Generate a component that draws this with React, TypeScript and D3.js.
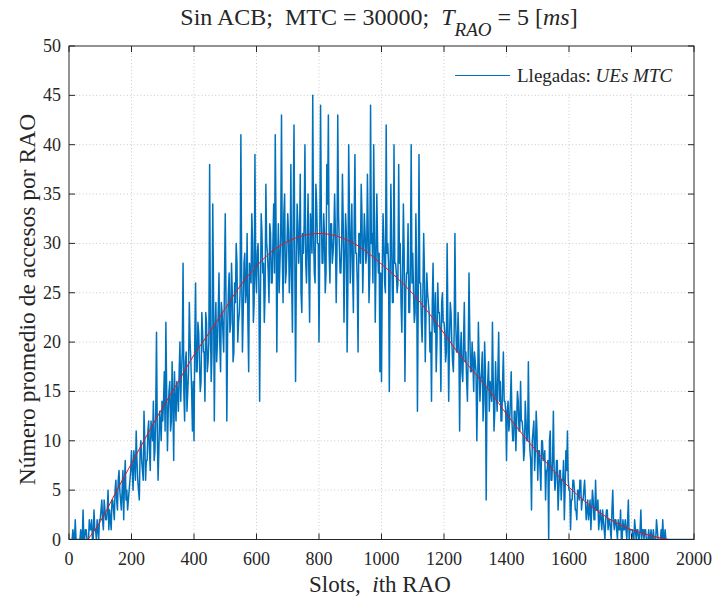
import React from "react";
import * as d3 from "d3";

const slotStep = 2.5;
const arrivals = [
  0, 0, 0, 0, 0, 1, 0, 0, 2, 0, 0, 0, 0, 0, 0, 1, 0, 0, 3, 0,
  0, 1, 1, 0, 0, 0, 2, 1, 1, 2, 0, 0, 3, 1, 1, 0, 2, 1, 0, 2,
  2, 3, 4, 2, 1, 4, 3, 2, 2, 3, 5, 1, 3, 2, 1, 4, 4, 3, 2, 5,
  6, 4, 3, 6, 7, 5, 4, 3, 5, 7, 2, 6, 8, 4, 5, 3, 4, 5, 6, 7,
  9, 7, 5, 9, 8, 6, 11, 8, 6, 5, 4, 9, 10, 8, 7, 6, 13, 10, 6, 8,
  8, 11, 12, 9, 7, 12, 11, 10, 14, 8, 9, 13, 21, 11, 6, 9, 13, 12, 10, 14,
  12, 14, 17, 11, 22, 15, 9, 13, 15, 16, 11, 12, 18, 14, 8, 17, 14, 12, 16, 15,
  13, 17, 20, 14, 17, 19, 28, 15, 12, 18, 19, 13, 15, 17, 24, 20, 18, 15, 11, 16,
  10, 20, 26, 17, 17, 22, 21, 18, 15, 16, 23, 21, 19, 19, 14, 23, 22, 17, 18, 20,
  38, 22, 16, 19, 34, 25, 12, 21, 24, 18, 20, 23, 27, 20, 17, 24, 23, 21, 19, 26,
  33, 24, 12, 21, 25, 27, 21, 22, 28, 25, 18, 19, 26, 24, 30, 28, 20, 22, 23, 25,
  41, 27, 19, 23, 28, 29, 24, 25, 31, 22, 17, 28, 27, 26, 33, 30, 22, 24, 39, 27,
  25, 29, 30, 26, 14, 24, 33, 31, 27, 28, 22, 25, 36, 30, 29, 27, 24, 32, 31, 26,
  26, 30, 34, 27, 41, 32, 19, 28, 32, 25, 28, 31, 43, 29, 24, 33, 35, 26, 27, 30,
  33, 31, 25, 28, 38, 26, 21, 33, 42, 29, 16, 27, 34, 32, 28, 30, 37, 25, 23, 31,
  29, 32, 40, 28, 26, 30, 35, 27, 22, 33, 31, 29, 45, 31, 27, 26, 36, 34, 30, 30,
  20, 30, 44, 33, 28, 28, 33, 31, 25, 27, 38, 34, 43, 29, 26, 32, 32, 28, 29, 31,
  35, 31, 24, 29, 43, 33, 30, 27, 27, 30, 37, 32, 22, 28, 33, 31, 19, 26, 40, 33,
  26, 30, 34, 27, 23, 32, 39, 29, 29, 26, 19, 31, 31, 28, 36, 33, 25, 29, 33, 31,
  28, 29, 37, 31, 24, 27, 44, 30, 31, 26, 40, 32, 22, 28, 35, 30, 27, 29, 17, 27,
  16, 27, 33, 30, 26, 25, 42, 29, 30, 28, 15, 26, 36, 30, 24, 24, 40, 28, 28, 27,
  25, 26, 38, 28, 30, 24, 21, 27, 34, 29, 16, 25, 27, 27, 32, 23, 23, 28, 40, 26,
  29, 25, 22, 23, 33, 27, 13, 24, 39, 26, 26, 22, 20, 25, 31, 27, 18, 23, 27, 25,
  24, 23, 19, 21, 14, 24, 28, 22, 21, 25, 17, 20, 26, 23, 23, 21, 15, 24, 25, 22,
  22, 21, 18, 19, 30, 22, 14, 20, 24, 23, 20, 18, 17, 21, 31, 22, 19, 19, 23, 20,
  11, 19, 21, 17, 16, 20, 24, 18, 19, 16, 14, 19, 27, 21, 17, 17, 20, 18, 15, 19,
  18, 17, 10, 15, 22, 18, 14, 16, 17, 19, 12, 14, 20, 17, 4, 15, 16, 18, 13, 16,
  15, 14, 22, 16, 11, 13, 18, 15, 13, 17, 21, 14, 16, 12, 12, 16, 19, 14, 14, 13,
  8, 13, 14, 11, 12, 14, 17, 12, 10, 10, 13, 13, 9, 12, 15, 14, 11, 11, 16, 12,
  12, 11, 8, 9, 14, 12, 10, 10, 18, 11, 9, 8, 3, 10, 11, 12, 7, 9, 13, 11,
  6, 9, 9, 7, 5, 10, 10, 8, 8, 9, 4, 7, 7, 8, 0, 10, 11, 6, 6, 8,
  13, 7, 5, 6, 8, 8, 3, 5, 7, 7, 4, 6, 6, 8, 2, 5, 9, 7, 11, 6,
  5, 5, 1, 4, 4, 6, 6, 5, 3, 3, 2, 5, 5, 4, 6, 6, 3, 4, 4, 5,
  6, 4, 2, 3, 4, 2, 3, 4, 1, 3, 5, 4, 2, 2, 6, 3, 3, 4, 1, 2,
  3, 2, 1, 3, 2, 1, 0, 2, 3, 3, 1, 2, 2, 1, 0, 3, 5, 2, 1, 2,
  2, 1, 0, 2, 1, 1, 3, 0, 0, 2, 1, 1, 2, 1, 0, 2, 4, 0, 1, 1,
  1, 1, 0, 0, 2, 1, 0, 1, 1, 0, 0, 1, 3, 0, 1, 1, 0, 1, 1, 0,
  0, 0, 1, 0, 0, 1, 0, 0, 1, 0, 0, 0, 2, 1, 0, 0, 0, 0, 1, 0,
  2, 0, 0, 1, 0, 0, 0, 0, 0, 0, 0, 0, 0, 0, 0, 0, 0, 0, 0, 0,
  0, 0, 0, 0, 0, 0, 0, 0, 0, 0, 0, 0, 0, 0, 0, 0, 0, 0, 0, 0,
  0,
];

// smooth mean curve (red)
const meanSlots = [60, 100, 150, 200, 250, 300, 350, 400, 450, 500, 550, 600, 650, 700, 750, 800, 850, 900, 950, 1000,
  1050, 1100, 1150, 1200, 1250, 1300, 1350, 1400, 1450, 1500, 1550, 1600, 1650, 1700, 1750, 1800, 1850, 1900, 1920];
const meanValues = [0, 1.8, 4.8, 7.7, 10.6, 13.4, 16.0, 18.7, 21.0, 23.4, 25.8, 27.7, 29.2, 30.2, 30.8, 31.0, 30.8, 30.2, 29.2, 27.9,
  26.5, 24.9, 23.0, 20.9, 18.7, 16.8, 14.9, 12.7, 10.7, 8.8, 7.0, 5.3, 3.9, 2.7, 1.7, 1.0, 0.5, 0.1, 0];

const xTicks = [0, 200, 400, 600, 800, 1000, 1200, 1400, 1600, 1800, 2000];
const yTicks = [0, 5, 10, 15, 20, 25, 30, 35, 40, 45, 50];

const W = 715, H = 599;
const left = 69, right = 694, top = 46, bottom = 539.5;
const serif = "'Liberation Serif', 'Times New Roman', serif";
const axisColor = "#262626";
const blue = "#0072BD";

export default function App() {
  const x = d3.scaleLinear().domain([0, 2000]).range([left, right]);
  const y = d3.scaleLinear().domain([0, 50]).range([bottom, top]);

  const arrLine = d3.line<number>()
    .x((d, i) => x(i * slotStep))
    .y(d => y(d));

  const meanLine = d3.line<number>()
    .x((d, i) => x(meanSlots[i]))
    .y(d => y(d))
    .curve(d3.curveMonotoneX);

  const tick = 6;

  return (
    <svg width={W} height={H} style={{ position: "absolute", left: 0, top: 0, background: "#fff" }}
      fontFamily={serif}>
      <rect x={0} y={0} width={W} height={H} fill="#fff" />
      {/* grid */}
      <g stroke="#bdbdbd" strokeWidth={0.8} strokeDasharray="1,2.4">
        {xTicks.slice(1, -1).map(t => (
          <line key={"gx" + t} x1={x(t)} x2={x(t)} y1={top} y2={bottom} />
        ))}
        {yTicks.slice(1, -1).map(t => (
          <line key={"gy" + t} x1={left} x2={right} y1={y(t)} y2={y(t)} />
        ))}
      </g>

      <defs>
        <clipPath id="plot">
          <rect x={left} y={top} width={right - left} height={bottom - top} />
        </clipPath>
      </defs>
      <g clipPath="url(#plot)">
        <path d={arrLine(arrivals) || ""} fill="none" stroke={blue} strokeWidth={1.5} strokeLinejoin="round" />
        <path d={meanLine(meanValues) || ""} fill="none" stroke="#e8141c" strokeWidth={1} />
      </g>

      {/* legend */}
      <rect x={448} y={58} width={243} height={35} fill="#fff" stroke="#fff" />
      <line x1={455} x2={510} y1={75.5} y2={75.5} stroke={blue} strokeWidth={1.2} />
      <text x={517} y={82} fontSize={19} fill="#262626">
        Llegadas: <tspan fontStyle="italic">UEs MTC</tspan>
      </text>

      {/* box and ticks */}
      <rect x={left} y={top} width={right - left} height={bottom - top} fill="none" stroke={axisColor} strokeWidth={1} />
      <g stroke={axisColor} strokeWidth={1}>
        {xTicks.map(t => (
          <g key={"tx" + t}>
            <line x1={x(t)} x2={x(t)} y1={bottom} y2={bottom - tick} />
            <line x1={x(t)} x2={x(t)} y1={top} y2={top + tick} />
          </g>
        ))}
        {yTicks.map(t => (
          <g key={"ty" + t}>
            <line x1={left} x2={left + tick} y1={y(t)} y2={y(t)} />
            <line x1={right} x2={right - tick} y1={y(t)} y2={y(t)} />
          </g>
        ))}
      </g>
      <g fontSize={18} fill="#262626">
        {xTicks.map(t => (
          <text key={"lx" + t} x={x(t)} y={bottom + 25.5} textAnchor="middle">{t}</text>
        ))}
        {yTicks.map(t => (
          <text key={"ly" + t} x={left - 8} y={y(t) + 6} textAnchor="end">{t}</text>
        ))}
      </g>

      {/* title */}
      <text x={379} y={25} textAnchor="middle" fontSize={24} fill="#262626" style={{ whiteSpace: "pre" }}>
        {"Sin ACB;  MTC = 30000;  "}
        <tspan fontStyle="italic">T</tspan>
        <tspan fontStyle="italic" fontSize={19} dy={11}>RAO</tspan>
        <tspan dy={-11}>{" = 5 ["}</tspan>
        <tspan fontStyle="italic">ms</tspan>
        <tspan>]</tspan>
      </text>

      {/* axis labels */}
      <text x={380} y={592} textAnchor="middle" fontSize={23} fill="#262626" style={{ whiteSpace: "pre" }}>
        {"Slots,  "}<tspan fontStyle="italic">i</tspan>th RAO
      </text>
      <text transform={`translate(35, 299.5) rotate(-90)`} textAnchor="middle" fontSize={23.5} fill="#262626">
        Número promedio de accesos por RAO
      </text>
    </svg>
  );
}
